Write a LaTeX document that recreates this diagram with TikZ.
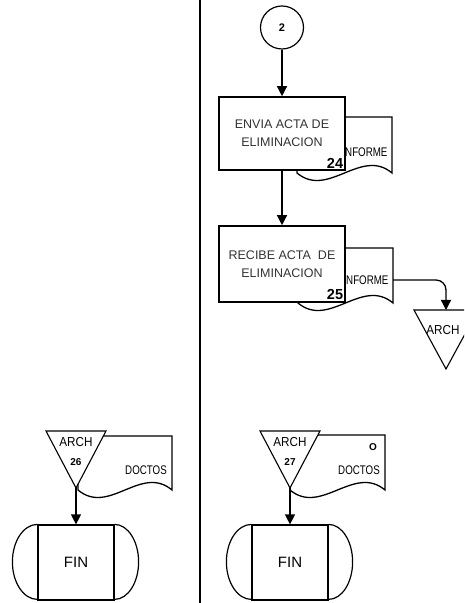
\documentclass[tikz,border=0pt]{standalone}
\usepackage{fontspec}
\setmainfont{Liberation Sans}
\newfontfamily\narrowfont[FakeStretch=0.78]{Liberation Sans}
\newfontfamily\archfont[FakeStretch=0.9]{Liberation Sans}
\usetikzlibrary{arrows.meta,positioning}

\begin{document}
\begin{tikzpicture}[x=1pt,y=1pt,>={Triangle[width=10pt,length=10pt]},
  proc/.style={draw,line width=1.6pt,fill=white,minimum width=126pt,align=center,
    font=\fontsize{12.5}{18}\selectfont,text=black!80,inner sep=0pt},
  numb/.style={anchor=south east,inner sep=2.5pt,font=\bfseries\fontsize{14.5}{14.5}\selectfont},
  doc/.style={line width=1.3pt,fill=white},
  tri/.style={line width=1.1pt,fill=white},
  small/.style={inner sep=0pt,font=\narrowfont\fontsize{12.5}{12.5}\selectfont},
  archlab/.style={inner sep=0pt,font=\archfont\fontsize{13}{13}\selectfont},
  fin/.style={draw,line width=1.2pt,minimum width=76pt,minimum height=75pt,
    font=\fontsize{15}{15}\selectfont},
  flow/.style={->,line width=1.3pt}]
\clip (0,0) rectangle (464,603);
% divisor de columnas
\draw[line width=2.4pt] (200,0) -- (200,603);

% documentos (detras de cajas y triangulos)
\foreach \xa/\xb/\yt/\yb/\tx/\ty/\lab in {297/392/486/430/365/451/INFORME,
    298/393/355/300/366/323/INFORME,78/172/167/113/146/133/DOCTOS,
    290/385/168/113/359/133/DOCTOS}
  \draw[doc] (\xa,\yt) -- (\xb,\yt) -- (\xb,\yb)
    .. controls ({\xb-31},{\yb+26}) and ({\xa+31},{\yb-26}) .. (\xa,\yb) -- cycle
    (\tx,\ty) node[small] {\lab};
\node[inner sep=0pt,font=\bfseries\fontsize{10}{10}\selectfont] (o27) at (373,156) {O};
\coordinate (inf25r) at (393,323);

% conector 2
\node[circle,draw,line width=1.2pt,minimum size=43pt,inner sep=0pt,
  font=\bfseries\fontsize{11}{11}\selectfont] (circ2) at (282,575.5) {2};

% actividades
\node[proc,minimum height=73pt] (act24) at (282,469.5) {ENVIA ACTA DE\\ELIMINACION};
\node[numb] at (act24.south east) {24};
\node[proc,minimum height=76pt] (act25) at (282,339) {RECIBE ACTA~ DE\\ELIMINACION};
\node[numb] at (act25.south east) {25};

\draw[flow] (circ2) -- (act24);
\draw[flow] (act24) -- (act25);

% archivos
\draw[tri] (414,293) -- (478,293) -- (446,234) -- cycle;
\coordinate (arch) at (446,293);
\node[archlab] (archtxt) at (443,273) {ARCH};
\draw[flow,rounded corners=10pt] (inf25r) -| (arch);

\foreach \cx/\num in {76/26,290/27} {
  \draw[tri] ({\cx-30},172) -- ({\cx+30},172) -- (\cx,115) -- cycle;
  \coordinate (tip\num) at (\cx,115);
  \node[archlab] (arch\num) at (\cx,161) {ARCH};
  \node[inner sep=0pt,font=\bfseries\fontsize{10}{10}\selectfont] (n\num) at (\cx,141) {\num};
  % terminador
  \node[fin] (fin\num) at (\cx,40.5) {FIN};
  \draw[line width=1.2pt] (fin\num.north west)
    arc[start angle=90,end angle=270,x radius=25,y radius=37.5];
  \draw[line width=1.2pt] (fin\num.north east)
    arc[start angle=90,end angle=-90,x radius=24,y radius=37.5];
  \draw[flow] (tip\num) -- (fin\num);
}
\end{tikzpicture}
\end{document}
